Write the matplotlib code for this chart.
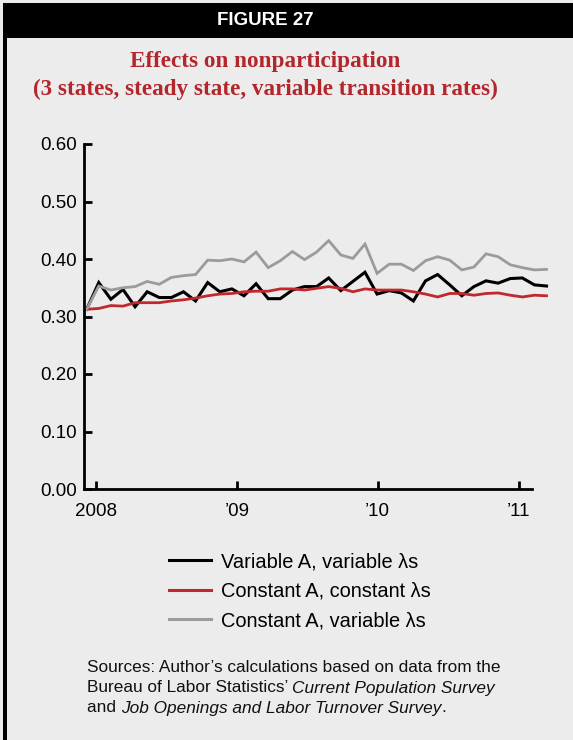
import matplotlib.pyplot as plt
from matplotlib.lines import Line2D
from matplotlib.patches import Rectangle

var_a_var_l = [0.3125, 0.359, 0.330, 0.347, 0.317, 0.343, 0.333, 0.333, 0.343, 0.327,
               0.359, 0.343, 0.348, 0.336, 0.357, 0.331, 0.331, 0.346, 0.352, 0.352,
               0.367, 0.345, 0.361, 0.377, 0.339, 0.345, 0.341, 0.327, 0.362, 0.373,
               0.355, 0.336, 0.352, 0.362, 0.358, 0.366, 0.367, 0.355, 0.353]
const_a_const_l = [0.3125, 0.314, 0.319, 0.318, 0.324, 0.324, 0.324, 0.327, 0.329, 0.332,
                   0.336, 0.339, 0.340, 0.343, 0.344, 0.344, 0.348, 0.348, 0.346, 0.349,
                   0.352, 0.349, 0.343, 0.348, 0.346, 0.346, 0.346, 0.343, 0.339, 0.334,
                   0.340, 0.340, 0.337, 0.340, 0.341, 0.337, 0.334, 0.337, 0.336]
const_a_var_l = [0.3125, 0.353, 0.346, 0.350, 0.352, 0.361, 0.356, 0.368, 0.371, 0.373,
                 0.398, 0.397, 0.400, 0.395, 0.412, 0.385, 0.397, 0.413, 0.399, 0.412,
                 0.432, 0.407, 0.401, 0.426, 0.375, 0.391, 0.391, 0.380, 0.397, 0.404,
                 0.398, 0.381, 0.386, 0.409, 0.404, 0.390, 0.385, 0.381, 0.382]
months = list(range(len(var_a_var_l)))

year_labels = ['2008', '\u201909', '\u201910', '\u201911']
year_ticks = [0.79, 12.42, 24.05, 35.7]
y_ticks = [0.0, 0.1, 0.2, 0.3, 0.4, 0.5, 0.6]

series_labels = ['Variable A, variable \u03bbs', 'Constant A, constant \u03bbs',
                 'Constant A, variable \u03bbs']
colors = ['#000000', '#c0282d', '#9b9b9b']

W, H = 573, 740
BG = '#ececec'
RED = '#b3262b'
plt.rcParams['font.family'] = ['Liberation Sans', 'DejaVu Sans']

fig = plt.figure(figsize=(W / 100, H / 100), dpi=100)
fig.patch.set_facecolor(BG)

# header bar and left frame line
fig.add_artist(Rectangle((3.3 / W, 1 - 38 / H), 1, 34.7 / H, transform=fig.transFigure,
                         facecolor='black', edgecolor='none'))
fig.add_artist(Rectangle((3.3 / W, 0), 3.2 / W, 1 - 38 / H, transform=fig.transFigure,
                         facecolor='black', edgecolor='none'))
fig.text(265 / W, 1 - 20.5 / H, 'FIGURE 27', color='white', fontsize=13.5,
         fontweight='bold', ha='center', va='center')
fig.text(265 / W, 1 - 62 / H, 'Effects on nonparticipation', color=RED, fontsize=16.7,
         fontweight='bold', family='Liberation Serif', ha='center', va='center')
fig.text(265 / W, 1 - 89 / H, '(3 states, steady state, variable transition rates)',
         color=RED, fontsize=16.7, fontweight='bold', family='Liberation Serif',
         ha='center', va='center')

ax = fig.add_axes([84 / W, 1 - 489 / H, (532 - 84) / W, (489 - 144) / H])
ax.set_facecolor(BG)
for vals, c, lw in zip([var_a_var_l, const_a_const_l, const_a_var_l], colors, [2.2, 2.0, 2.0]):
    ax.plot(months, vals, color=c, lw=lw, clip_on=False, solid_joinstyle='miter')

ax.set_xlim(-0.22, 36.8)
ax.set_ylim(0, 0.6)
ax.set_yticks(y_ticks)
ax.set_yticklabels([f'{v:.2f}' for v in y_ticks])
ax.set_xticks(year_ticks)
ax.set_xticklabels(year_labels)
for s in ['top', 'right']:
    ax.spines[s].set_visible(False)
for s in ['left', 'bottom']:
    ax.spines[s].set_linewidth(2.0)
ax.tick_params(direction='in', length=6, width=2.0, labelsize=13.5)
ax.tick_params(axis='y', pad=5)
ax.tick_params(axis='x', pad=10)

handles = [Line2D([], [], color=c, lw=2.2) for c in colors]
fig.legend(handles, series_labels, loc='upper left', bbox_to_anchor=(169 / W, 1 - 552 / H),
           frameon=False, fontsize=14.4, handlelength=2.1, handletextpad=0.5,
           labelspacing=0.53, borderpad=0, borderaxespad=0)

# sources note with italic survey names
renderer = fig.canvas.get_renderer()


def write_line(pieces, x, y):
    for txt, style in pieces:
        t = fig.text(x / W, 1 - y / H, txt, fontsize=12.4, style=style, va='center',
                     ha='left', color='#111111')
        x += t.get_window_extent(renderer=renderer).width


write_line([('Sources: Author\u2019s calculations based on data from the', 'normal')], 87, 668)
write_line([('Bureau of Labor Statistics\u2019 ', 'normal'),
            ('Current Population Survey', 'italic')], 87, 688)
write_line([('and ', 'normal'), ('Job Openings and Labor Turnover Survey', 'italic'),
            ('.', 'normal')], 87, 708)

fig.savefig('out.png', dpi=100, facecolor=BG)
